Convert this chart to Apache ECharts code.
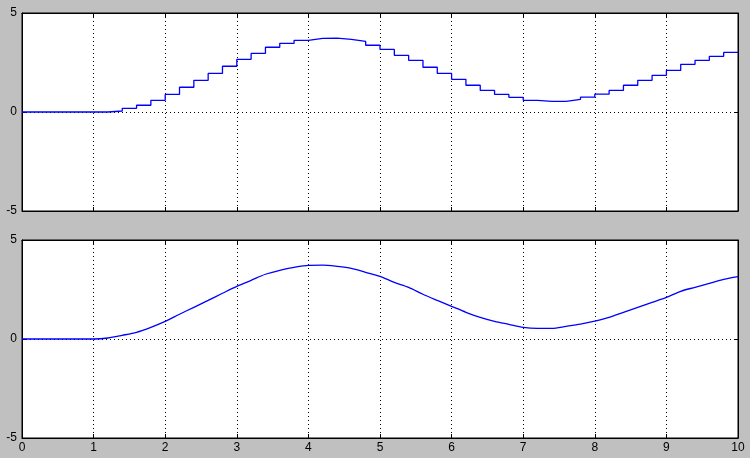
<!DOCTYPE html>
<html><head><meta charset="utf-8">
<script src="https://cdn.jsdelivr.net/npm/echarts@6/dist/echarts.min.js"></script>
<style>html,body{margin:0;padding:0;background:#c0c0c0;}#c{width:750px;height:458px;}</style>
</head><body><div id="c"></div>
<script>
// sample times (0.2 s)
var times = [0,0.2,0.4,0.6,0.8,1.0,1.2,1.4,1.6,1.8,2.0,2.2,2.4,2.6,2.8,3.0,3.2,3.4,3.6,3.8,4.0,4.2,4.4,4.6,4.8,5.0,5.2,5.4,5.6,5.8,6.0,6.2,6.4,6.6,6.8,7.0,7.2,7.4,7.6,7.8,8.0,8.2,8.4,8.6,8.8,9.0,9.2,9.4,9.6,9.8,10.0];
// zero-order-hold (top panel)
var heldValues = [0,0,0,0,0,0,0.05,0.185,0.34,0.59,0.89,1.25,1.60,1.95,2.31,2.66,2.96,3.27,3.47,3.62,3.72,3.73,3.67,3.57,3.37,3.16,2.86,2.61,2.26,1.95,1.65,1.35,1.09,0.89,0.74,0.59,0.54,0.54,0.64,0.75,0.90,1.09,1.35,1.60,1.85,2.10,2.41,2.61,2.81,3.01,3.01];
// continuous signal (bottom panel)
var contValues = [0,0,0,0,0,0,0.05,0.185,0.34,0.59,0.89,1.25,1.60,1.95,2.31,2.66,2.96,3.27,3.47,3.62,3.72,3.73,3.67,3.57,3.37,3.16,2.86,2.61,2.26,1.95,1.65,1.35,1.09,0.89,0.74,0.59,0.54,0.54,0.64,0.75,0.90,1.09,1.35,1.60,1.85,2.10,2.41,2.61,2.81,3.01,3.15];
var xTicks = [0,1,2,3,4,5,6,7,8,9,10];
var yTicks = [-5,0,5];

function pairs(xs, ys){ var o=[]; for(var i=0;i<xs.length;i++) o.push([xs[i], ys[i]]); return o; }

var font = {color:'#000', fontFamily:'Liberation Sans, Arial, sans-serif', fontSize:12};
var grids = [
  {left:22, top:13, width:716, height:198, show:true, backgroundColor:'#fff', borderColor:'#000', borderWidth:1},
  {left:22, top:240, width:716, height:198, show:true, backgroundColor:'#fff', borderColor:'#000', borderWidth:1}
];
function xAx(g, pos, labels, grid){
  return {type:'value', gridIndex:g, position:pos, min:xTicks[0], max:xTicks[xTicks.length-1], interval:1,
    axisLine:{show:true, onZero:false, lineStyle:{color:'#000', width:1}},
    axisTick:{show:true, inside:true, length:4, lineStyle:{color:'#000'}},
    axisLabel:Object.assign({show:labels, margin:4}, font),
    splitLine:{show:grid, lineStyle:{color:'#000', type:[1,3], width:1}}};
}
function yAx(g, pos, labels, grid){
  return {type:'value', gridIndex:g, position:pos, min:yTicks[0], max:yTicks[yTicks.length-1], interval:5,
    axisLine:{show:true, onZero:false, lineStyle:{color:'#000', width:1}},
    axisTick:{show:true, inside:true, length:4, lineStyle:{color:'#000'}},
    axisLabel:Object.assign({show:labels, margin:5}, font),
    splitLine:{show:grid, lineStyle:{color:'#000', type:[1,3], width:1}}};
}
var chart = echarts.init(document.getElementById('c'), null, {renderer:'canvas'});
chart.setOption({
  animation:false,
  backgroundColor:'#c0c0c0',
  grid:grids,
  xAxis:[xAx(0,'bottom',false,true), xAx(1,'bottom',true,true), xAx(0,'top',false,false), xAx(1,'top',false,false)],
  yAxis:[yAx(0,'left',true,true), yAx(1,'left',true,true), yAx(0,'right',false,false), yAx(1,'right',false,false)],
  series:[
    {type:'line', xAxisIndex:0, yAxisIndex:0, step:'end', data:pairs(times, heldValues), showSymbol:false, lineStyle:{color:'#0000ff', width:1.3}, itemStyle:{color:'#0000ff'}},
    {type:'line', xAxisIndex:1, yAxisIndex:1, smooth:0.3, data:pairs(times, contValues), showSymbol:false, lineStyle:{color:'#0000ff', width:1.3}, itemStyle:{color:'#0000ff'}}
  ]
});
</script></body></html>
